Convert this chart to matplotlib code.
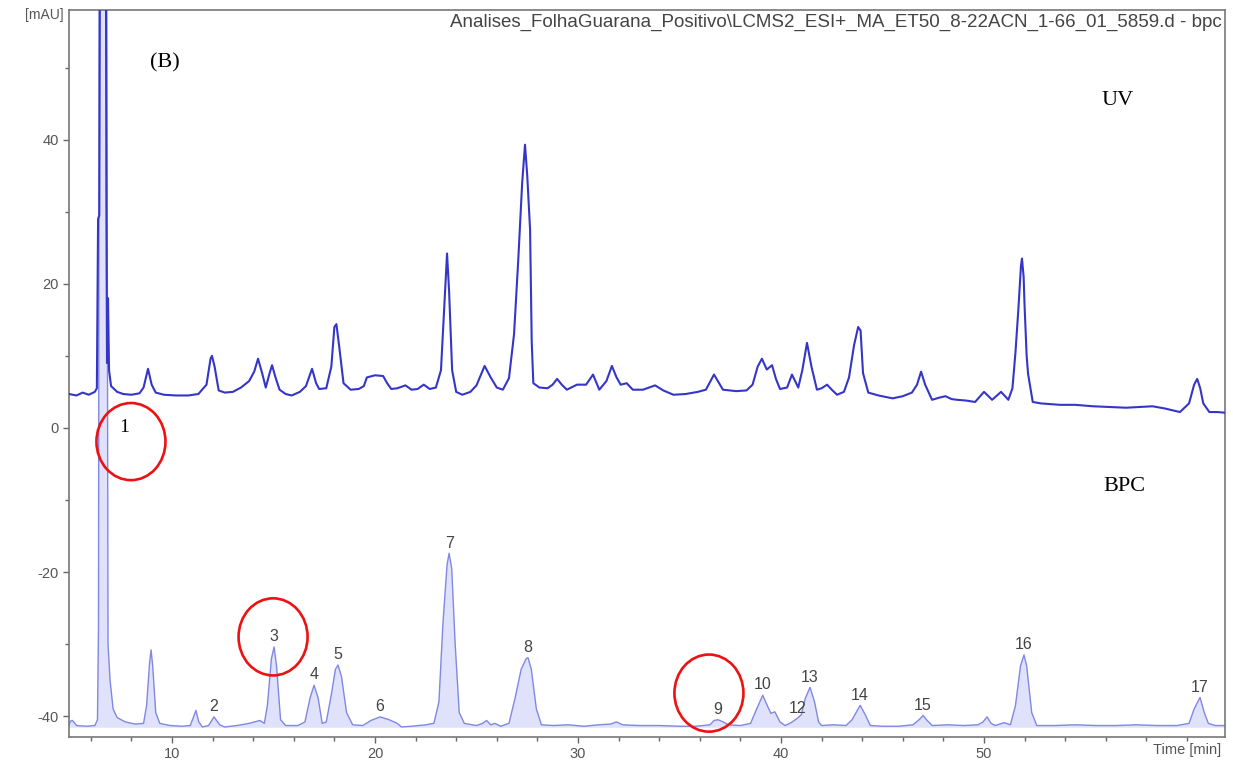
import matplotlib
matplotlib.use("Agg")
import matplotlib.pyplot as plt
from matplotlib.patches import Ellipse
from matplotlib.ticker import MultipleLocator

plt.rcParams['font.family'] = ['Liberation Sans', 'DejaVu Sans']
plt.rcParams['axes.unicode_minus'] = False

# UV trace (mAU vs retention time in min)
uv_time = [4.93, 5.3, 5.6, 5.9, 6.2, 6.30, 6.36, 6.42, 6.46, 6.74, 6.77, 6.80, 6.85, 6.90, 7.0,
           7.3, 7.6, 8.0, 8.4, 8.6, 8.82, 9.0, 9.2, 9.6, 10.2, 10.8, 11.3, 11.7, 11.9, 11.97,
           12.1, 12.3, 12.6, 13.0, 13.4, 13.8, 14.05, 14.24, 14.45, 14.62, 14.8, 14.93, 15.1,
           15.3, 15.6, 15.9, 16.3, 16.6, 16.9, 17.1, 17.25, 17.6, 17.85, 18.0, 18.1, 18.25,
           18.45, 18.8, 19.2, 19.45, 19.6, 20.0, 20.4, 20.6, 20.8, 21.1, 21.5, 21.8, 22.1,
           22.4, 22.7, 23.0, 23.25, 23.45, 23.55, 23.65, 23.8, 24.0, 24.3, 24.7, 25.0, 25.4,
           25.7, 26.0, 26.3, 26.6, 26.85, 27.05, 27.25, 27.39, 27.5, 27.64, 27.72, 27.8, 28.1,
           28.5, 28.75, 28.97, 29.2, 29.45, 29.95, 30.4, 30.74, 31.05, 31.4, 31.67, 31.9, 32.1,
           32.4, 32.7, 33.2, 33.8, 34.2, 34.7, 35.3, 35.9, 36.3, 36.7, 37.14, 37.8, 38.3, 38.6,
           38.85, 39.06, 39.3, 39.56, 39.75, 39.95, 40.3, 40.54, 40.85, 41.05, 41.28, 41.5,
           41.77, 42.0, 42.27, 42.5, 42.76, 43.1, 43.35, 43.6, 43.8, 43.92, 44.04, 44.3, 44.8,
           45.5, 46.0, 46.45, 46.7, 46.9, 47.1, 47.44, 47.8, 48.1, 48.4, 48.67, 49.1, 49.56,
           50.0, 50.4, 50.84, 51.2, 51.4, 51.55, 51.7, 51.82, 51.87, 51.95, 52.0, 52.1, 52.17,
           52.4, 52.8, 53.74, 54.5, 55.37, 56.2, 57.0, 57.7, 58.3, 58.9, 59.65, 60.1, 60.35,
           60.5, 60.65, 60.8, 61.1, 61.5, 61.9]
uv_mau = [4.7, 4.5, 4.9, 4.6, 5.0, 5.5, 29.0, 29.5, 75.0, 75.0, 30.7, 9.0, 18.0, 8.0, 5.8,
          5.0, 4.7, 4.6, 4.8, 5.6, 8.2, 6.0, 4.9, 4.6, 4.5, 4.5, 4.7, 6.0, 9.6, 10.0,
          8.5, 5.2, 4.9, 5.0, 5.6, 6.5, 7.8, 9.6, 7.5, 5.6, 7.5, 8.7, 7.0,
          5.3, 4.7, 4.5, 5.0, 5.8, 8.2, 6.2, 5.4, 5.5, 8.5, 14.0, 14.4, 11.0,
          6.2, 5.3, 5.4, 5.8, 7.0, 7.3, 7.2, 6.2, 5.4, 5.5, 5.9, 5.3, 5.4,
          6.0, 5.4, 5.6, 8.0, 19.0, 24.2, 19.0, 8.0, 5.0, 4.6, 5.0, 5.9, 8.6,
          7.0, 5.6, 5.3, 6.9, 13.0, 22.9, 34.0, 39.3, 35.0, 27.5, 12.0, 6.2, 5.6,
          5.5, 6.0, 6.8, 6.0, 5.3, 6.0, 6.0, 7.4, 5.3, 6.5, 8.6, 7.0, 6.0,
          6.2, 5.3, 5.3, 5.9, 5.2, 4.6, 4.7, 5.0, 5.3, 7.4, 5.3, 5.1, 5.2, 6.0,
          8.5, 9.6, 8.1, 8.7, 6.8, 5.4, 5.6, 7.4, 5.6, 8.0, 11.8, 8.5,
          5.3, 5.5, 6.0, 5.3, 4.6, 5.0, 7.0, 11.5, 14.0, 13.5, 7.6, 4.9, 4.5,
          4.1, 4.4, 4.9, 6.0, 7.8, 6.0, 3.9, 4.2, 4.4, 4.0, 3.9, 3.8, 3.6,
          5.0, 3.9, 5.0, 3.9, 5.5, 10.5, 16.8, 22.5, 23.5, 21.0, 16.8, 10.0, 7.5,
          3.6, 3.4, 3.2, 3.2, 3.0, 2.9, 2.8, 2.9, 3.0, 2.7, 2.2, 3.4, 6.0,
          6.8, 5.5, 3.4, 2.2, 2.2, 2.1]

# base peak chromatogram (offset below the UV trace)
bpc_time = [4.93, 5.0, 5.1, 5.3, 5.8, 6.2, 6.33, 6.38, 6.42, 6.78, 6.85, 6.95, 7.1, 7.3, 7.7,
            8.2, 8.6, 8.75, 8.9, 8.97, 9.05, 9.2, 9.4, 9.9, 10.5, 10.9, 11.05, 11.18, 11.32,
            11.5, 11.8, 12.07, 12.35, 12.6, 13.2, 13.8, 14.33, 14.55, 14.7, 14.9, 15.03, 15.15,
            15.35, 15.6, 16.2, 16.55, 16.8, 17.0, 17.2, 17.4, 17.6, 17.85, 18.05, 18.18, 18.35,
            18.6, 18.9, 19.4, 19.8, 20.25, 20.7, 21.1, 21.3, 21.8, 22.5, 22.9, 23.15, 23.35,
            23.55, 23.65, 23.78, 23.95, 24.15, 24.4, 25.0, 25.3, 25.5, 25.7, 25.9, 26.2, 26.6,
            26.9, 27.2, 27.45, 27.54, 27.7, 27.95, 28.2, 28.8, 29.5, 30.3, 31.0, 31.6, 31.9,
            32.2, 33.0, 34.0, 35.0, 35.8, 36.5, 36.7, 36.9, 37.15, 37.4, 38.0, 38.5, 38.8,
            39.1, 39.35, 39.5, 39.7, 39.95, 40.2, 40.5, 40.8, 41.0, 41.2, 41.43, 41.65, 41.85,
            42.0, 42.6, 43.2, 43.5, 43.9, 44.15, 44.4, 45.0, 45.8, 46.5, 46.8, 47.0, 47.2,
            47.45, 48.2, 49.0, 49.7, 49.95, 50.15, 50.35, 50.55, 51.0, 51.3, 51.55, 51.8, 51.97,
            52.1, 52.35, 52.6, 53.5, 54.5, 55.5, 56.5, 57.5, 58.5, 59.5, 60.1, 60.35, 60.64,
            60.85, 61.05, 61.4, 61.9]
bpc_mau = [-41.2, -40.7, -40.6, -41.3, -41.4, -41.3, -40.5, -28.0, 75.0, 75.0, -30.0, -35.0, -39.0, -40.2, -40.8,
           -41.1, -41.0, -38.5, -32.5, -30.8, -33.0, -39.5, -41.0, -41.3, -41.4, -41.3, -40.2, -39.2, -40.8,
           -41.5, -41.3, -40.1, -41.2, -41.5, -41.3, -41.0, -40.6, -41.0, -38.5, -32.0, -30.4, -33.0,
           -40.5, -41.3, -41.3, -40.8, -37.5, -35.7, -37.5, -41.0, -40.8, -37.0, -33.5, -32.9, -34.5,
           -39.5, -41.2, -41.3, -40.6, -40.1, -40.5, -41.0, -41.5, -41.4, -41.2, -41.0, -38.0, -27.0,
           -19.0, -17.4, -19.5, -30.0, -39.5, -41.0, -41.3, -41.0, -40.6, -41.2, -41.0, -41.4, -41.0,
           -37.5, -33.5, -32.0, -31.9, -33.5, -39.0, -41.2, -41.3, -41.2, -41.4, -41.2, -41.1, -40.8,
           -41.2, -41.3, -41.3, -41.4, -41.4, -41.2, -40.6, -40.5, -40.8, -41.2, -41.3, -41.0, -39.0,
           -37.1, -38.7, -39.6, -39.4, -40.8, -41.3, -40.9, -40.3, -39.8, -37.5, -36.0, -38.0, -40.8,
           -41.3, -41.2, -41.3, -40.5, -38.5, -39.8, -41.3, -41.4, -41.4, -41.2, -40.5, -39.9, -40.6,
           -41.3, -41.2, -41.3, -41.2, -40.8, -40.1, -41.0, -41.3, -40.9, -41.2, -38.5, -33.0, -31.5,
           -33.0, -39.5, -41.3, -41.3, -41.2, -41.3, -41.3, -41.2, -41.3, -41.3, -41.0, -39.0, -37.4,
           -39.5, -41.0, -41.3, -41.3]

# numbered BPC peaks
peak_names = ['2', '3', '4', '5', '6', '7', '8', '9', '10', '12', '13', '14', '15', '16', '17']
peak_time = [12.07, 15.03, 17.0, 18.18, 20.25, 23.65, 27.54, 36.9, 39.1, 40.8, 41.43, 43.9, 47.0, 51.97, 60.64]
peak_top = [-40.1, -30.4, -35.7, -32.9, -40.1, -17.4, -31.9, -40.5, -37.1, -40.3, -36.0, -38.5, -39.9, -31.5, -37.4]

# highlighted peaks: (time, mAU) centres of the red rings
ring_time = [7.98, 14.98, 36.45]
ring_mau = [-1.9, -29.0, -36.8]

fig = plt.figure(figsize=(12.33, 7.63), dpi=100)
ax = fig.add_axes([0.056, 0.034, 0.9375, 0.953])

ax.fill_between(bpc_time, bpc_mau, -41.6, color='#dfe2fa', lw=0, zorder=1)
ax.plot(bpc_time, bpc_mau, color='#8088e2', lw=1.0, zorder=2)
ax.plot(uv_time, uv_mau, color='#3535c8', lw=1.5, zorder=3)

for name, t, top in zip(peak_names, peak_time, peak_top):
    ax.annotate(name, (t, top), xytext=(0, 2), textcoords='offset points',
                ha='center', va='bottom', fontsize=11.5, color='#444444', zorder=4)

for t, v in zip(ring_time, ring_mau):
    ax.add_patch(Ellipse((t, v), width=3.4, height=10.7, fill=False,
                         edgecolor='#ee1111', lw=1.9, zorder=5))
ax.text(7.64, 0.0, '1', family='Liberation Serif', fontsize=14, ha='center', va='center', zorder=6)

ax.text(0.083, 0.927, '(B)', transform=ax.transAxes, family='Liberation Serif',
        fontsize=16, ha='center', va='center')
ax.text(0.907, 0.876, 'UV', transform=ax.transAxes, family='Liberation Serif',
        fontsize=16, ha='center', va='center')
ax.text(0.913, 0.345, 'BPC', transform=ax.transAxes, family='Liberation Serif',
        fontsize=16, ha='center', va='center')

ax.text(0.997, 0.983, 'Analises_FolhaGuarana_Positivo\\LCMS2_ESI+_MA_ET50_8-22ACN_1-66_01_5859.d - bpc',
        transform=ax.transAxes, ha='right', va='center', fontsize=13.5, color='#444444')
ax.text(-0.005, 0.993, '[mAU]', transform=ax.transAxes, ha='right', va='center',
        fontsize=10, color='#555555')
ax.text(0.997, -0.018, 'Time [min]', transform=ax.transAxes, ha='right', va='center',
        fontsize=10.5, color='#555555')

ax.set_xlim(4.93, 61.87)
ax.set_ylim(-42.9, 58.0)
ax.set_xticks([10, 20, 30, 40, 50])
ax.xaxis.set_minor_locator(MultipleLocator(2))
ax.set_yticks([-40, -20, 0, 20, 40])
ax.yaxis.set_minor_locator(MultipleLocator(10))
ax.tick_params(which='both', direction='out', color='#666666', labelcolor='#555555',
               labelsize=10.5, width=1)
ax.tick_params(which='major', length=4)
ax.tick_params(which='minor', length=3)
for side in ax.spines.values():
    side.set_color('#777777')
    side.set_linewidth(1.2)

fig.savefig('out.png', dpi=100)
